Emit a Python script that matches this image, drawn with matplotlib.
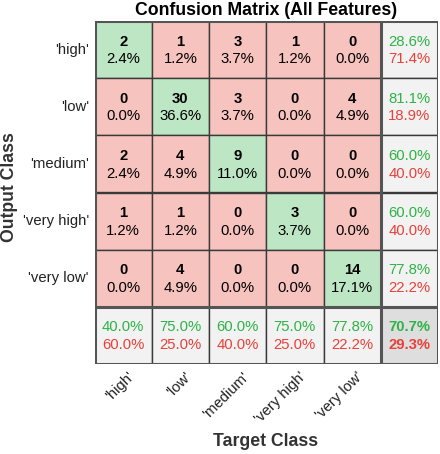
import numpy as np
import matplotlib.pyplot as plt
from matplotlib.patches import Rectangle

plt.rcParams['font.family'] = ['Liberation Sans', 'DejaVu Sans']

classes = ["'high'", "'low'", "'medium'", "'very high'", "'very low'"]

# rows = output class, cols = target class
counts = np.array([
    [2, 1, 3, 1, 0],
    [0, 30, 3, 0, 4],
    [2, 4, 9, 0, 0],
    [1, 1, 0, 3, 0],
    [0, 4, 0, 0, 14],
])

green_cell = '#bde6c4'
red_cell = '#f7c3bf'
gray_cell = '#f2f2f2'
corner_cell = '#dedede'
green_txt = '#2eb346'
red_txt = '#e8413a'
line_col = '#3a3a3a'

n = len(classes)
total = counts.sum()
row_sum = counts.sum(axis=1)
col_sum = counts.sum(axis=0)
diag = np.diag(counts)

fig = plt.figure(figsize=(4.4, 4.54), dpi=100)
ax = fig.add_axes([94.5 / 440, 90 / 454, 343.5 / 440, 343 / 454])
ax.set_xlim(0, n + 1)
ax.set_ylim(n + 1, 0)
ax.axis('off')

fs = 10.7
for i in range(n + 1):
    for j in range(n + 1):
        if i < n and j < n:
            fc = green_cell if i == j else red_cell
        elif i == n and j == n:
            fc = corner_cell
        else:
            fc = gray_cell
        ax.add_patch(Rectangle((j, i), 1, 1, facecolor=fc, edgecolor=line_col, lw=1.0))
        if i < n and j < n:
            c = counts[i, j]
            ax.text(j + 0.5, i + 0.36, f'{c}', ha='center', va='center',
                    fontsize=fs, fontweight='bold', color='black')
            ax.text(j + 0.5, i + 0.67, f'{100 * c / total:.1f}%', ha='center',
                    va='center', fontsize=fs, color='black')
        else:
            if i < n:
                p = 100 * diag[i] / row_sum[i]
            elif j < n:
                p = 100 * diag[j] / col_sum[j]
            else:
                p = 100 * diag.sum() / total
            fw = 'bold' if (i == n and j == n) else 'normal'
            ax.text(j + 0.5, i + 0.36, f'{p:.1f}%', ha='center', va='center',
                    fontsize=fs, color=green_txt, fontweight=fw)
            ax.text(j + 0.5, i + 0.67, f'{100 - p:.1f}%', ha='center', va='center',
                    fontsize=fs, color=red_txt, fontweight=fw)

# thicker separators and outer frame
ax.plot([n, n], [0, n + 1], color='#555555', lw=2.2, solid_capstyle='butt')
ax.plot([0, n + 1], [n, n], color='#555555', lw=2.2, solid_capstyle='butt')
ax.add_patch(Rectangle((0, 0), n + 1, n + 1, fill=False, edgecolor='#555555', lw=2.2))

# tick labels
for k, name in enumerate(classes):
    ax.text(-0.1, k + 0.5, name, ha='right', va='center', fontsize=fs, color='#222222')
    ax.text(k + 0.66, n + 1.18, name, ha='right', va='center', rotation=45,
            rotation_mode='anchor', fontsize=fs, color='#222222')

ax.set_title('Confusion Matrix (All Features)', fontsize=12.7, fontweight='bold', pad=4)
fig.text(10 / 440, 1 - 187 / 454, 'Output Class', rotation=90, ha='center', va='center',
         fontsize=12.7, fontweight='bold', color='#333333')
fig.text(266 / 440, 1 - 442 / 454, 'Target Class', ha='center', va='center',
         fontsize=12.7, fontweight='bold', color='#333333')

fig.savefig('out.png', dpi=100)
